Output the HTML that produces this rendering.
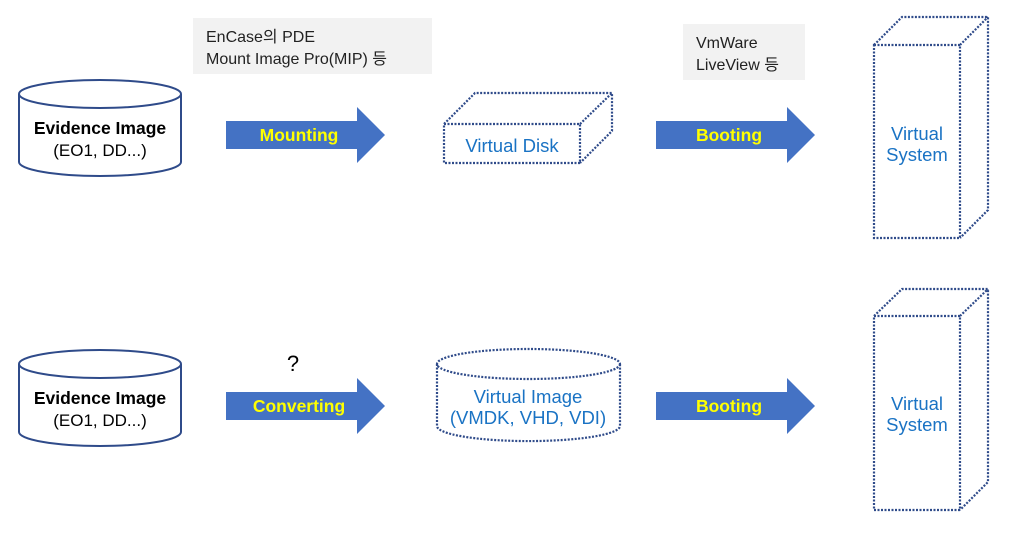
<!DOCTYPE html>
<html><head><style>
body{margin:0;background:#fff;}
svg text{font-family:"Liberation Sans","Noto Sans CJK KR",sans-serif;}
</style></head><body>
<svg width="1014" height="528" viewBox="0 0 1014 528" xmlns="http://www.w3.org/2000/svg">
<rect x="193" y="18" width="239" height="56" fill="#f2f2f2"/>
<text x="206" y="42" font-size="16" fill="#222">EnCase의 PDE</text>
<text x="206" y="64" font-size="16" fill="#222">Mount Image Pro(MIP) 등</text>
<rect x="683" y="24" width="122" height="56" fill="#f2f2f2"/>
<text x="696" y="48" font-size="16" fill="#222">VmWare</text>
<text x="696" y="70" font-size="16" fill="#222">LiveView 등</text>

<g fill="#fff" stroke="#2f4b8a" stroke-width="2">
<path d="M19 94 V162 A81 14 0 0 0 181 162 V94"/>
<ellipse cx="100" cy="94" rx="81" ry="14"/>
<path d="M19 364 V432 A81 14 0 0 0 181 432 V364"/>
<ellipse cx="100" cy="364" rx="81" ry="14"/>
</g>
<g text-anchor="middle" fill="#000">
<text x="100" y="134" font-size="17.5" font-weight="bold">Evidence Image</text>
<text x="100" y="156" font-size="17">(EO1, DD...)</text>
<text x="100" y="404" font-size="17.5" font-weight="bold">Evidence Image</text>
<text x="100" y="426" font-size="17">(EO1, DD...)</text>
<text x="293" y="371" font-size="22">?</text>
</g>

<g fill="#4472c4">
<path d="M226 121 H357 V107 L385 135 L357 163 V149 H226Z"/>
<path d="M656 121 H787 V107 L815 135 L787 163 V149 H656Z"/>
<path d="M226 392 H357 V378 L385 406 L357 434 V420 H226Z"/>
<path d="M656 392 H787 V378 L815 406 L787 434 V420 H656Z"/>
</g>
<g font-size="17.5" font-weight="bold" fill="#ffff00" text-anchor="middle">
<text x="299" y="141">Mounting</text>
<text x="729" y="141">Booting</text>
<text x="299" y="412">Converting</text>
<text x="729" y="412">Booting</text>
</g>

<g fill="none" stroke="#2f4b8a" stroke-width="2.2" stroke-dasharray="2 1.5">
<rect x="444" y="124" width="136" height="39"/>
<path d="M444 124 L475 93 H612 V131 L580 163 M580 124 L612 93"/>
<rect x="874" y="45" width="86" height="193"/>
<path d="M874 45 L902 17 H988 V210 L960 238 M960 45 L988 17"/>
<rect x="874" y="316" width="86" height="194"/>
<path d="M874 316 L902 289 H988 V482 L960 510 M960 316 L988 289"/>
<path d="M437 364 V426 A91 15 0 0 0 620 426 V364"/>
<ellipse cx="528.5" cy="364" rx="91.5" ry="15"/>
</g>
<g font-size="18.5" fill="#1a73c4" text-anchor="middle">
<text x="512" y="152">Virtual Disk</text>
<text x="917" y="140">Virtual</text>
<text x="917" y="161">System</text>
<text x="917" y="410">Virtual</text>
<text x="917" y="431">System</text>
<text x="528" y="403">Virtual Image</text>
<text x="528" y="424">(VMDK, VHD, VDI)</text>
</g>
</svg>
</body></html>
